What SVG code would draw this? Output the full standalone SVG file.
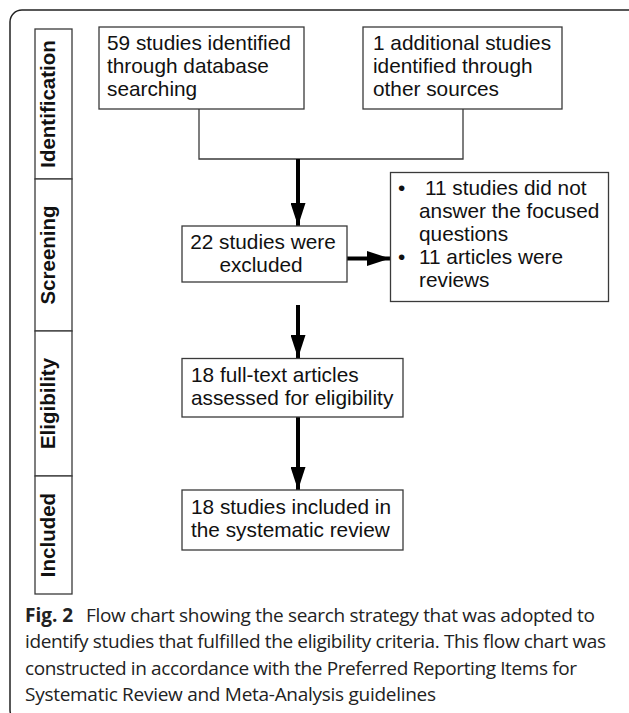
<svg xmlns="http://www.w3.org/2000/svg" width="629" height="713" viewBox="0 0 629 713">
<style>
.box{fill:#fff;stroke:#3a3a3a;stroke-width:1.3}
.t{font-family:"Liberation Sans",Arial,sans-serif;font-size:20.8px;fill:#111}
.side{font-family:"Liberation Sans",Arial,sans-serif;font-size:20.5px;font-weight:bold;fill:#111;text-anchor:middle}
.thin{fill:none;stroke:#3a3a3a;stroke-width:1.3}
.thick{fill:none;stroke:#000;stroke-width:4}
.cap{font-family:"Open Sans","Noto Sans",sans-serif;font-size:19px;fill:#222}
</style>
<defs>
<marker id="ah" markerUnits="userSpaceOnUse" markerWidth="23" markerHeight="15" refX="23" refY="7.5" orient="auto">
<path d="M0,0 L23,7.5 L0,15 z" fill="#000"/>
</marker>
</defs>
<rect x="10" y="10" width="640" height="712" rx="12" ry="12" fill="none" stroke="#222" stroke-width="1.5"/>
<g id="phase-identification">
<rect class="box" x="35" y="29" width="37" height="150"/>
<text class="side" x="55" y="104" transform="rotate(-90 55 104)">Identification</text>
</g>
<g id="phase-screening">
<rect class="box" x="35" y="179" width="37" height="152"/>
<text class="side" x="55" y="255" transform="rotate(-90 55 255)">Screening</text>
</g>
<g id="phase-eligibility">
<rect class="box" x="35" y="331" width="37" height="145"/>
<text class="side" x="55" y="403.5" transform="rotate(-90 55 403.5)">Eligibility</text>
</g>
<g id="phase-included">
<rect class="box" x="35" y="476" width="37" height="118"/>
<text class="side" x="55" y="535" transform="rotate(-90 55 535)">Included</text>
</g>
<g id="connectors">
<path class="thin" d="M199,109 V159 H463 V109"/>
<path class="thick" d="M298,159 V226" marker-end="url(#ah)"/>
<path class="thick" d="M347,258.5 H390" marker-end="url(#ah)"/>
<path class="thick" d="M298,305 V358" marker-end="url(#ah)"/>
<path class="thick" d="M298,417 V490" marker-end="url(#ah)"/>
</g>
<g id="node-database">
<rect class="box" x="99" y="27" width="205" height="82"/>
<text class="t" x="107" y="50">59 studies identified</text>
<text class="t" x="107" y="73">through database</text>
<text class="t" x="107" y="96">searching</text>
</g>
<g id="node-other">
<rect class="box" x="363" y="27" width="199" height="82"/>
<text class="t" x="373" y="50">1 additional studies</text>
<text class="t" x="373" y="73">identified through</text>
<text class="t" x="373" y="96">other sources</text>
</g>
<g id="node-excluded">
<rect class="box" x="182" y="226" width="165" height="56"/>
<text class="t" x="263" y="249" text-anchor="middle">22 studies were</text>
<text class="t" x="261" y="272" text-anchor="middle">excluded</text>
</g>
<g id="node-reasons">
<rect class="box" x="390.5" y="172.5" width="218" height="129"/>
<text class="t" x="398" y="195">•</text>
<text class="t" x="425" y="195">11 studies did not</text>
<text class="t" x="419" y="218">answer the focused</text>
<text class="t" x="419" y="241">questions</text>
<text class="t" x="398" y="264">•</text>
<text class="t" x="419" y="264">11 articles were</text>
<text class="t" x="419" y="287">reviews</text>
</g>
<g id="node-fulltext">
<rect class="box" x="182" y="358.5" width="221" height="58.5"/>
<text class="t" x="191" y="381.5">18 full-text articles</text>
<text class="t" x="191" y="404.5">assessed for eligibility</text>
</g>
<g id="node-included">
<rect class="box" x="182" y="490" width="221" height="60"/>
<text class="t" x="191" y="513.5">18 studies included in</text>
<text class="t" x="191" y="536.5">the systematic review</text>
</g>
<g id="caption">
<text class="cap" x="25" y="621.5" font-weight="bold">Fig. 2</text>
<text class="cap" x="86" y="621.5" textLength="509" lengthAdjust="spacing">Flow chart showing the search strategy that was adopted to</text>
<text class="cap" x="25" y="648" textLength="581" lengthAdjust="spacing">identify studies that fulfilled the eligibility criteria. This flow chart was</text>
<text class="cap" x="25" y="674.5" textLength="552" lengthAdjust="spacing">constructed in accordance with the Preferred Reporting Items for</text>
<text class="cap" x="25" y="701" textLength="411" lengthAdjust="spacing">Systematic Review and Meta-Analysis guidelines</text>
</g>
</svg>
